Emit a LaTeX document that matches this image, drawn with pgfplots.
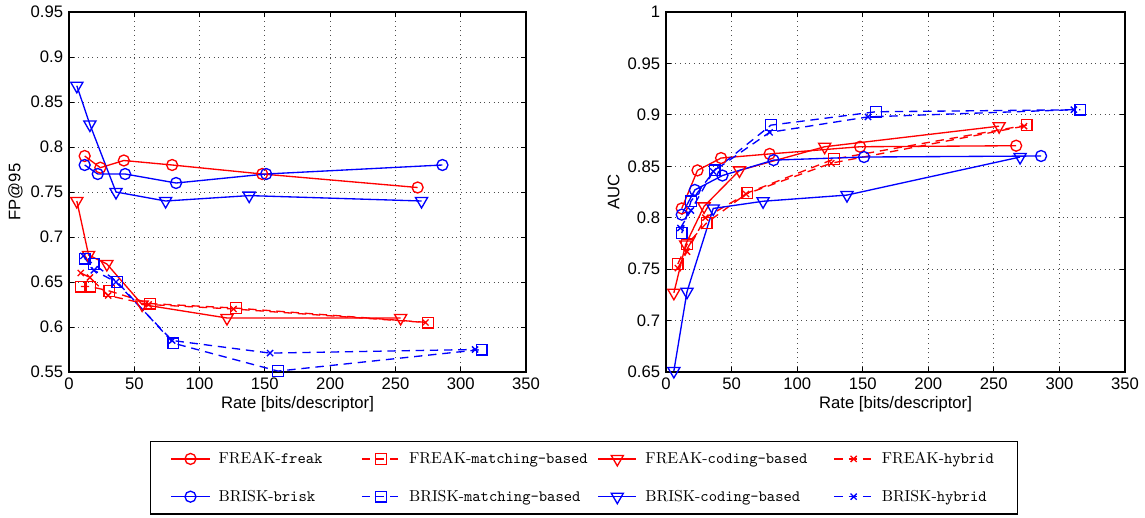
\documentclass[border=0pt]{standalone}
\usepackage{fontspec}
\usepackage{pgfplots}
\pgfplotsset{compat=1.18}
\usepackage{pgfplotstable}
\newfontfamily\ticksf{Liberation Sans}

% x = rate, fp = FP@95, auc = AUC
\pgfplotstableread{
x    fp     auc
12   0.790  0.809
24   0.777  0.846
42   0.785  0.858
79   0.780  0.862
148  0.770  0.869
267  0.755  0.870
}\freakfreak
\pgfplotstableread{
x    fp     auc
9    0.645  0.755
16   0.645  0.774
31   0.640  0.795
62   0.626  0.824
128  0.621  0.857
275  0.605  0.890
}\freakmatch
\pgfplotstableread{
x    fp     auc
6    0.740  0.727
15   0.680  0.774
29   0.670  0.811
56   0.625  0.846
121  0.610  0.869
254  0.610  0.889
}\freakcode
\pgfplotstableread{
x    fp     auc
9    0.660  0.751
16   0.655  0.767
30   0.635  0.800
61   0.625  0.823
126  0.620  0.853
273  0.605  0.889
}\freakhyb
\pgfplotstableread{
x    fp     auc
12   0.780  0.803
22   0.770  0.827
43   0.770  0.841
82   0.760  0.856
151  0.770  0.859
286  0.780  0.860
}\briskbrisk
\pgfplotstableread{
x    fp     auc
12   0.676  0.785
19   0.670  0.816
37   0.650  0.846
80   0.582  0.890
160  0.551  0.903
316  0.575  0.905
}\briskmatch
\pgfplotstableread{
x    fp     auc
6    0.868  0.651
16   0.825  0.728
36   0.750  0.809
74   0.740  0.816
138  0.746  0.822
270  0.740  0.859
}\briskcode
\pgfplotstableread{
x    fp     auc
11   0.679  0.790
19   0.663  0.807
36   0.650  0.845
79   0.585  0.883
154  0.571  0.898
311  0.575  0.905
}\briskhyb

\pgfplotsset{
  ser/.style={line width=0.8pt, mark options={solid, line width=0.8pt}},
  sline/.style={solid},
  dline/.style={dash pattern=on 5pt off 3.5pt},
  mcirc/.style={mark=o, mark size=3.3pt},
  msq/.style={mark=square, mark size=3.2pt},
  mtri/.style={mark=triangle, mark size=4.2pt, mark options={solid, rotate=180}},
  mx/.style={mark=x, mark size=2.6pt},
  base/.style={
    scale only axis,
    height=216pt,
    xmin=0, xmax=350,
    xtick={0,50,100,150,200,250,300,350},
    tick align=inside,
    major tick length=3pt,
    tick style={black, line width=0.5pt},
    axis line style={line width=0.8pt},
    grid=major,
    grid style={black!70, line width=0.5pt, dash pattern=on 0.6pt off 2.2pt},
    /pgf/number format/assume math mode=true,
    tick label style={font=\ticksf\fontsize{10}{12}\selectfont},
    label style={font=\ticksf\fontsize{10}{12}\selectfont},
    xlabel={Rate [bits/descriptor]},
    xlabel style={yshift=3pt},
  },
}

\begin{document}
\begin{tikzpicture}
\useasboundingbox (-41.4pt,-87pt) rectangle (645.6pt,223.2pt);
\begin{axis}[
  base,
  width=274.2pt,
  ymin=0.55, ymax=0.95,
  ytick={0.55,0.6,0.65,0.7,0.75,0.8,0.85,0.9,0.95},
  ylabel={FP@95},
  ylabel style={yshift=-2pt},
  legend columns=4,
  legend cell align=left,
  legend image code/.code={\draw[mark repeat=2,mark phase=2] plot coordinates {(0pt,0pt) (11.5pt,0pt) (23pt,0pt)};},
  legend style={
    at={(0.1772,-0.1917)}, anchor=north west,
    draw=black, line width=0.8pt,
    font=\fontsize{9.5}{11}\selectfont,
    inner xsep=12pt, inner ysep=4.2pt,
    row sep=10.4pt,
    /tikz/every odd column/.append style={column sep=3pt},
  },
]
\addplot[ser, red, sline, mcirc] table[x=x, y=fp] {\freakfreak};
\addlegendentry{\makebox[83.5pt][l]{FREAK-\texttt{freak}}}
\addplot[ser, red, dline, msq] table[x=x, y=fp] {\freakmatch};
\addlegendentry{\makebox[111pt][l]{FREAK-\texttt{matching-based}}}
\addplot[ser, red, sline, mtri] table[x=x, y=fp] {\freakcode};
\addlegendentry{\makebox[111pt][l]{FREAK-\texttt{coding-based}}}
\addplot[ser, red, dline, mx] table[x=x, y=fp] {\freakhyb};
\addlegendentry{FREAK-\texttt{hybrid}}
\addplot[ser, blue, sline, mcirc] table[x=x, y=fp] {\briskbrisk};
\addlegendentry{\makebox[83.5pt][l]{BRISK-\texttt{brisk}}}
\addplot[ser, blue, dline, msq] table[x=x, y=fp] {\briskmatch};
\addlegendentry{\makebox[111pt][l]{BRISK-\texttt{matching-based}}}
\addplot[ser, blue, sline, mtri] table[x=x, y=fp] {\briskcode};
\addlegendentry{\makebox[111pt][l]{BRISK-\texttt{coding-based}}}
\addplot[ser, blue, dline, mx] table[x=x, y=fp] {\briskhyb};
\addlegendentry{BRISK-\texttt{hybrid}}
\end{axis}

\begin{axis}[
  base,
  at={(358.2pt,0pt)}, anchor=south west,
  width=275.4pt,
  ymin=0.65, ymax=1,
  ytick={0.65,0.7,0.75,0.8,0.85,0.9,0.95,1},
  ylabel={AUC},
  ylabel style={yshift=-2pt},
]
\addplot[ser, red, sline, mcirc] table[x=x, y=auc] {\freakfreak};
\addplot[ser, red, dline, msq] table[x=x, y=auc] {\freakmatch};
\addplot[ser, red, sline, mtri] table[x=x, y=auc] {\freakcode};
\addplot[ser, red, dline, mx] table[x=x, y=auc] {\freakhyb};
\addplot[ser, blue, sline, mcirc] table[x=x, y=auc] {\briskbrisk};
\addplot[ser, blue, dline, msq] table[x=x, y=auc] {\briskmatch};
\addplot[ser, blue, sline, mtri] table[x=x, y=auc] {\briskcode};
\addplot[ser, blue, dline, mx] table[x=x, y=auc] {\briskhyb};
\end{axis}
\end{tikzpicture}
\end{document}
